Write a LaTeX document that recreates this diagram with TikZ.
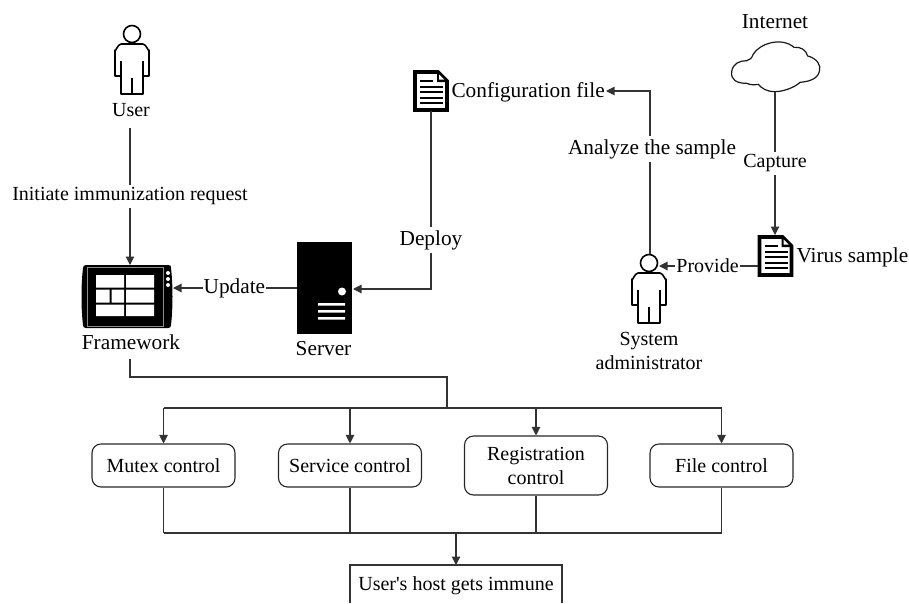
\documentclass[tikz,border=0pt]{standalone}
\usepackage{fontspec}
\setmainfont{Liberation Serif}
\newfontfamily\rawfont{Liberation Serif}
\usetikzlibrary{arrows.meta,calc}
\tikzset{
  x=1pt,y=-1pt,
  every picture/.style={line width=1pt},
  conn/.style={draw=black!80,line width=1.1pt},
  arr/.style={conn,-{Triangle[length=8.5pt,width=8.5pt]}},
  txt/.style={font=\fontsize{20}{24}\selectfont,inner sep=0pt,align=center},
  big/.style={font=\fontsize{21.3}{25}\selectfont},
  lab/.style={txt,fill=white,inner xsep=1pt,inner ysep=3pt},
  ctl/.style={draw=black!85,line width=1.1pt,rounded corners=9pt,txt,minimum width=143pt,minimum height=43pt},
  person/.pic={
    \draw[line width=1.6pt] (0,0) circle (8.5);
    \draw[line width=1.6pt,line join=round] (-11,42) -- (-17,42) -- (-17,16) to[out=-90,in=180] (-11,10) -- (11,10) to[out=0,in=-90] (17,16) -- (17,42) -- (11,42) -- (11,60) -- (-11,60) -- cycle;
    \draw[line width=2.8pt] (-11,27) -- (-11,42) (11,27) -- (11,42) (0,44) -- (0,60);
  },
  docicon/.pic={
    \draw[line width=3.8pt,line join=miter,fill=white] (0,0) -- (23,0) -- (32,9) -- (32,38) -- (0,38) -- cycle;
    \fill[black] (22,0) -- (22,10) -- (32,10) -- cycle;
    \fill[white] (24,2.5) -- (24,7.5) -- (29,7.5) -- cycle;
    \draw[line width=2pt] (5,9) -- (18,9) (5,14.5) -- (28,14.5) (5,20) -- (28,20) (5,25.5) -- (28,25.5) (5,31) -- (28,31);
  },
}
\begin{document}
\begin{tikzpicture}
\useasboundingbox (0,0) rectangle (909,603);
% bottom box (cropped by the picture edge)
\begin{scope}
\clip (0,0) rectangle (909,603);
\draw[conn] (350,603) -- (350,565) -- (562,565) -- (562,603);
\end{scope}
\node[txt] (immune) at (456,586) {\rawfont User's host gets immune};
\coordinate (immunetop) at (456,565);

% icons
\coordinate (user) at (132,34);
\pic at (user) {person};
\node[txt] (usert) at (131,110) {User};
\coordinate (admin) at (649,263);
\pic at (admin) {person};
\node[txt] (admint) at (649,351) {System\\administrator};
\coordinate (cfg) at (415,72);
\pic at (cfg) {docicon};
\node[txt,big,anchor=west] (cfgt) at (451,92) {Configuration file};
\coordinate (virus) at (759.5,237);
\pic at (virus) {docicon};
\node[txt,big,anchor=west] (virust) at (796,257) {Virus sample};

% tablet
\coordinate (tablet) at (82,265);
\fill[black] (86,265) -- (168,265) .. controls (171,265) and (171,266) .. (171,268)
  .. controls (173,285) and (173,308) .. (171,325) .. controls (171,327) and (170,328) .. (168,328)
  -- (86,328) .. controls (84,328) and (83,327) .. (83,325)
  .. controls (81,308) and (81,285) .. (83,268) .. controls (83,266) and (84,265) .. (86,265) -- cycle;
\draw[black!45,line width=.6pt] (87,267) rectangle (163,326);
\fill[white] (96,275) rectangle (124,287.5) (126,275) rectangle (154,287.5)
  (96,289.5) rectangle (109.5,302.5) (111.5,289.5) rectangle (124,302.5) (126,289.5) rectangle (154,302.5)
  (96,304.5) rectangle (124,316) (126,304.5) rectangle (154,316);
\fill[white] (168,273) circle (2) (168,279) circle (2) (168,285) circle (2);
\node[txt,big] (fw) at (131,342) {Framework};
\node[inner sep=0pt,minimum width=92pt,minimum height=63pt] (fwbox) at (127,296.5) {};

% server
\fill[black] (297,242) rectangle (352,334);
\fill[white] (342,291.5) circle (4);
\fill[white] (318,303) rectangle (345,305.5) (318,310) rectangle (345,312.5) (318,317) rectangle (345,319.5);
\node[inner sep=0pt,minimum width=55pt,minimum height=92pt] (srv) at (324.5,288) {};
\node[txt,big] (srvt) at (323.5,349) {Server};

% cloud
\node[txt,big] (nett) at (775,22) {Internet};
\begin{scope}[shift={(720,30)},x=.3333pt,y=-.3333pt]
\draw[line width=1.2pt,draw=black!90,fill=white] (35,125)
  .. controls (38,100) and (60,92) .. (80,92)
  .. controls (90,90) and (95,85) .. (100,72)
  .. controls (120,40) and (185,20) .. (222,52)
  .. controls (240,50) and (258,58) .. (263,78)
  .. controls (290,85) and (305,105) .. (298,125)
  .. controls (292,148) and (265,155) .. (240,157)
  .. controls (225,172) and (190,185) .. (165,185)
  .. controls (140,185) and (125,175) .. (115,163)
  .. controls (105,165) and (90,165) .. (80,160)
  .. controls (50,160) and (32,150) .. (35,125) -- cycle;
\end{scope}
\coordinate (cloud) at (775,92);

% connectors
\coordinate (a1) at (130,128);
\coordinate (a2) at (130,265);
\draw[arr] (a1) -- node[lab,pos=.5] (l1) {Initiate immunization request} (a2);
\coordinate (b1) at (297,288);
\coordinate (b2) at (173,288);
\draw[arr] (b1) -- node[lab,big,pos=.505] (l2) {Update} (b2);
\coordinate (c1) at (431,111);
\coordinate (c2) at (431,289);
\coordinate (c3) at (353,289);
\draw[arr] (c1) -- (c2) -- (c3);
\node[lab,big] (l3) at (431,240) {Deploy};
\coordinate (d1) at (650,254);
\coordinate (d2) at (650,91);
\coordinate (d3) at (606,91);
\draw[arr] (d1) -- (d2) -- (d3);
\node[lab,big] (l4) at (652,149) {Analyze the sample};
\coordinate (e2) at (775,235);
\draw[arr] (cloud) -- node[lab,pos=.5] (l5) {Capture} (e2);
\coordinate (f1) at (758,266);
\coordinate (f2) at (659,266);
\draw[arr] (f1) -- node[lab,pos=.51] (l6) {Provide} (f2);

% distribution
\node[ctl] (mutex) at (163.5,465.5) {Mutex control};
\node[ctl] (service) at (350,465.5) {Service control};
\node[ctl,minimum height=59pt] (reg) at (536,465.5) {Registration\\control};
\node[ctl] (file) at (721.5,465.5) {File control};
\coordinate (g1) at (130,359);
\coordinate (g2) at (130,377);
\coordinate (g3) at (447,377);
\coordinate (g4) at (447,408);
\draw[conn] (g1) -- (g2) -- (g3) -- (g4);
\draw[conn] (mutex.north|-g4) -- (file.north|-g4);
\foreach \n in {mutex,service,reg,file}{
  \draw[arr] (\n.north|-g4) -- (\n.north);
}
\coordinate (h) at (456,533);
\draw[conn] (mutex.south|-h) -- (file.south|-h);
\foreach \n in {mutex,service,reg,file}{
  \draw[conn] (\n.south) -- (\n.south|-h);
}
\draw[arr] (h) -- (immunetop);
\end{tikzpicture}
\end{document}
